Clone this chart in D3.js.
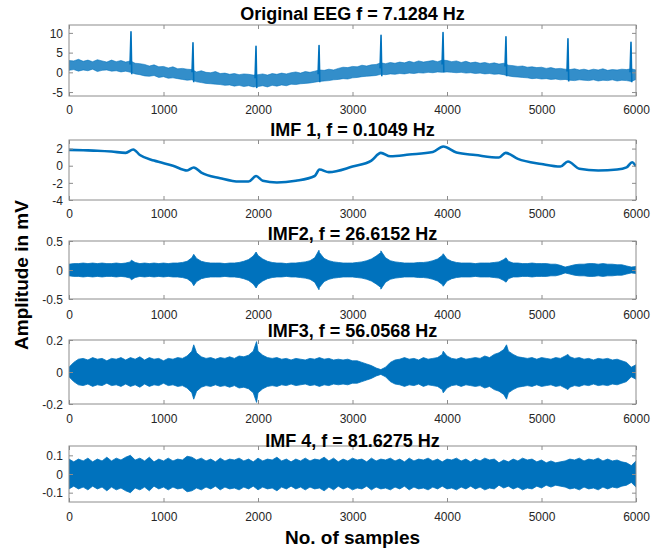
<!DOCTYPE html>
<html><head><meta charset="utf-8">
<script src="https://cdn.jsdelivr.net/npm/d3@7/dist/d3.min.js"></script>
<style>body{margin:0;background:#fff}svg{display:block}</style>
</head><body>
<script>
// ---------- DATA ----------
const xTicks = [0,1000,2000,3000,4000,5000,6000];
const gridStep = 50; // samples between envelope points

// Original EEG: upper / lower noise envelope (every 50 samples), spikes
const eegUpper = [3.0,2.9,3.3,2.8,3.1,2.7,3.2,2.9,2.6,3.1,
 2.7,3.0,2.6,2.9,2.3,2.2,2.0,1.6,1.9,1.4,
 1.5,1.1,1.4,0.9,1.0,0.8,0.7,0.1,0.4,0.0,
 -0.1,0.2,-0.3,-0.2,-0.5,-0.3,-0.6,-0.4,-0.5,-0.7,
 -0.6,-0.4,-0.7,-0.3,-0.5,-0.2,-0.4,-0.1,0.1,-0.2,
 0.2,0.0,0.3,0.6,0.5,0.8,0.6,1.0,1.3,1.2,
 1.5,1.4,1.8,1.6,1.9,2.0,2.4,2.2,2.5,2.3,
 2.6,2.4,2.8,2.5,2.9,2.6,2.8,3.0,2.7,3.1,
 3.0,2.7,2.9,2.5,2.8,2.4,2.6,2.3,2.5,2.2,
 2.4,2.1,2.3,1.8,1.7,1.5,1.6,1.3,1.4,1.2,
 1.3,1.0,1.2,0.9,1.0,0.8,0.7,0.9,0.6,0.8,
 0.5,0.8,0.6,0.9,0.5,0.7,0.6,0.8,0.7,0.9,
 0.6];
const eegLower = [0.5,0.7,0.3,0.6,0.4,0.8,0.2,0.5,0.6,0.3,
 0.4,0.1,0.3,0.0,-0.4,-0.6,-0.9,-1.0,-0.8,-1.3,
 -1.1,-1.5,-1.4,-1.6,-1.8,-2.0,-1.9,-2.4,-2.6,-2.8,
 -2.9,-3.0,-3.1,-3.3,-3.2,-3.5,-3.3,-3.6,-3.4,-3.7,
 -3.6,-3.4,-3.7,-3.3,-3.5,-3.2,-3.4,-3.0,-3.1,-2.9,
 -2.8,-2.7,-2.5,-2.3,-2.2,-2.1,-1.9,-1.8,-1.6,-1.7,
 -1.4,-1.3,-1.1,-1.0,-0.9,-0.8,-0.5,-0.6,-0.4,-0.5,
 -0.3,-0.4,-0.2,-0.3,-0.1,-0.2,0.0,-0.1,0.1,0.0,
 0.1,0.0,-0.1,0.0,-0.2,-0.1,-0.3,-0.2,-0.4,-0.3,
 -0.5,-0.4,-0.6,-0.9,-1.1,-1.2,-1.3,-1.4,-1.6,-1.5,
 -1.7,-1.6,-1.8,-1.7,-1.9,-1.8,-2.0,-2.1,-1.9,-2.0,
 -2.1,-1.9,-2.2,-2.0,-2.1,-1.9,-2.2,-2.0,-2.1,-2.3,
 -1.8];
const spikeX    = [656,1312,1979,2646,3302,3958,4624,5280,5947];
const spikePeak = [10.3,7.5,6.6,6.8,9.4,10.1,9.0,8.5,7.6];
const spikeBase = [2.0,0.0,-1.5,-0.5,1.0,2.0,1.5,0.2,0.0];
const spikeDip  = [-0.5,-2.5,-4.0,-2.5,-1.0,0.0,-1.0,-2.3,-2.5];

// IMF 1: slow trend
const imf1X = [0,150,300,450,600,680,750,900,1100,1250,1320,1400,1600,1800,1900,1980,2050,2200,2400,2600,2650,2750,3000,3200,3300,3400,3600,3850,3960,4100,4300,4550,4620,4750,5000,5200,5280,5400,5600,5800,5900,5960,6000];
const imf1Y = [1.85,1.8,1.75,1.65,1.5,1.9,1.25,0.6,0.0,-0.55,-0.2,-0.8,-1.45,-1.85,-1.85,-1.2,-1.75,-1.95,-1.75,-1.2,-0.45,-0.75,-0.1,0.6,1.5,1.1,1.3,1.6,2.25,1.55,1.25,0.95,1.5,0.8,0.2,-0.1,0.5,-0.35,-0.55,-0.45,-0.2,0.4,-0.1];

// IMF 2: amplitude envelope (every 50 samples) + burst peaks
const imf2Amp = [0.10,0.11,0.11,0.12,0.11,0.12,0.11,0.12,0.11,0.11,0.12,0.11,0.12,
 0.14,0.13,0.11,0.12,0.11,0.12,0.11,0.12,0.11,0.12,0.12,0.13,0.15,0.21,0.20,0.15,0.13,
 0.12,0.12,0.12,0.11,0.12,0.12,0.13,0.15,0.18,0.24,0.25,0.19,0.15,0.13,0.12,0.12,0.11,
 0.12,0.12,0.13,0.14,0.16,0.21,0.30,0.20,0.16,0.14,0.13,0.12,0.12,0.12,0.13,0.14,0.16,
 0.19,0.24,0.30,0.21,0.16,0.14,0.13,0.12,0.12,0.12,0.13,0.13,0.14,0.16,0.19,0.25,0.19,
 0.15,0.13,0.12,0.12,0.12,0.11,0.12,0.12,0.12,0.13,0.14,0.18,0.15,0.12,0.12,0.11,0.11,
 0.12,0.11,0.11,0.11,0.10,0.10,0.08,0.05,0.07,0.09,0.10,0.10,0.11,0.11,0.10,0.11,0.10,
 0.10,0.09,0.09,0.07,0.05,0.06];
const imf2PeakX = [660,1320,1980,2645,3300,3960,4625];
const imf2PeakA = [0.17,0.27,0.31,0.34,0.33,0.28,0.21];

// IMF 3
const imf3Amp = [0.03,0.06,0.08,0.085,0.075,0.09,0.08,0.085,0.07,0.085,0.08,0.09,0.075,
 0.09,0.08,0.095,0.075,0.09,0.08,0.085,0.07,0.085,0.08,0.09,0.085,0.10,0.13,0.12,0.095,
 0.085,0.09,0.08,0.09,0.085,0.095,0.085,0.10,0.095,0.105,0.13,0.13,0.105,0.09,0.085,0.09,
 0.08,0.085,0.075,0.085,0.08,0.075,0.085,0.08,0.09,0.08,0.085,0.075,0.08,0.075,0.08,
 0.07,0.07,0.06,0.05,0.04,0.025,0.015,0.03,0.06,0.075,0.08,0.09,0.08,0.085,0.075,0.09,
 0.08,0.085,0.09,0.11,0.10,0.085,0.08,0.09,0.08,0.085,0.09,0.085,0.10,0.09,0.11,0.12,
 0.14,0.13,0.11,0.095,0.09,0.085,0.09,0.08,0.09,0.085,0.08,0.09,0.085,0.10,0.095,0.085,
 0.09,0.08,0.085,0.075,0.085,0.08,0.085,0.075,0.08,0.07,0.06,0.03,0.045];
const imf3PeakX = [1320,1985,3960,4630,5280];
const imf3PeakA = [0.17,0.19,0.13,0.17,0.11];

// IMF 4
const imf4Amp = [0.08,0.065,0.08,0.07,0.085,0.065,0.08,0.07,0.09,0.07,0.085,0.075,0.09,
 0.10,0.075,0.085,0.07,0.09,0.065,0.08,0.07,0.085,0.07,0.08,0.075,0.095,0.09,0.075,0.085,
 0.07,0.08,0.065,0.085,0.07,0.08,0.075,0.085,0.07,0.08,0.065,0.085,0.07,0.08,0.075,0.09,
 0.07,0.08,0.065,0.08,0.07,0.085,0.07,0.08,0.075,0.09,0.07,0.085,0.065,0.08,0.07,0.085,
 0.075,0.08,0.065,0.085,0.07,0.08,0.075,0.085,0.07,0.08,0.065,0.085,0.07,0.08,0.075,
 0.085,0.07,0.08,0.065,0.08,0.075,0.085,0.07,0.08,0.065,0.08,0.07,0.085,0.075,0.08,0.06,
 0.075,0.065,0.08,0.07,0.085,0.075,0.08,0.065,0.075,0.06,0.07,0.06,0.065,0.07,0.08,0.075,
 0.085,0.07,0.08,0.075,0.085,0.07,0.08,0.07,0.075,0.065,0.06,0.045,0.07];

const titles = ["Original EEG f = 7.1284 Hz","IMF 1, f = 0.1049 Hz","IMF2, f = 26.6152 Hz","IMF3, f = 56.0568 Hz","IMF 4, f = 81.6275 Hz"];
const yDomains = [[-6,12],[-4,3],[-0.5,0.5],[-0.2,0.2],[-0.15,0.15]];
const yTicks = [[-5,0,5,10],[-4,-2,0,2],[-0.5,0,0.5],[-0.2,0,0.2],[-0.1,0,0.1]];
const yLabel = "Amplitude in mV";
const xLabel = "No. of samples";

// ---------- LAYOUT ----------
const W = 664, H = 549;
const left = 69, right = 636;
const panels = [
  {top:25, bottom:96, titleY:14, tickY:110},
  {top:140, bottom:200, titleY:130, tickY:214},
  {top:241, bottom:299, titleY:234, tickY:315},
  {top:340, bottom:404, titleY:331, tickY:419},
  {top:446, bottom:502, titleY:441, tickY:517}
];
const blue = "#0072BD";
const font = "'Liberation Sans', Arial, sans-serif";

const svg = d3.select("body").append("svg").attr("width",W).attr("height",H)
  .style("font-family", font);

const x = d3.scaleLinear().domain([0,6000]).range([left,right]);

function gridPts(arr){ return arr.map((v,i)=>({s:i*gridStep, v:v})); }
function withPeaks(arr, px, pa){
  const pts = gridPts(arr).concat(px.map((s,i)=>({s:s, v:pa[i]})));
  return pts.sort((a,b)=>a.s-b.s);
}

panels.forEach((p,k)=>{
  const y = d3.scaleLinear().domain(yDomains[k]).range([p.bottom,p.top]);
  const g = svg.append("g");
  const clipId = "clip"+k;
  svg.append("clipPath").attr("id",clipId).append("rect")
    .attr("x",left).attr("y",p.top).attr("width",right-left).attr("height",p.bottom-p.top);
  const plot = g.append("g").attr("clip-path",`url(#${clipId})`);

  if(k===0){
    const pts = eegUpper.map((u,i)=>({s:i*gridStep, u:u, l:eegLower[i]}));
    plot.append("path").datum(pts)
      .attr("d", d3.area().x(d=>x(d.s)).y0(d=>y(d.l)).y1(d=>y(d.u)))
      .attr("fill", blue).attr("fill-opacity",0.8)
      .attr("stroke", blue).attr("stroke-opacity",0.7).attr("stroke-width",0.8).attr("stroke-linejoin","round");
    spikeX.forEach((s,i)=>{
      const sp = [[s-10, spikeBase[i]],[s, spikePeak[i]],[s+8, spikeDip[i]]];
      plot.append("path").datum(sp)
        .attr("d", d3.line().x(d=>x(d[0])).y(d=>y(d[1])))
        .attr("fill","none").attr("stroke",blue).attr("stroke-width",1.6)
        .attr("stroke-linejoin","round");
    });
  } else if(k===1){
    const pts = imf1X.map((s,i)=>[s, imf1Y[i]]);
    plot.append("path").datum(pts)
      .attr("d", d3.line().x(d=>x(d[0])).y(d=>y(d[1])).curve(d3.curveMonotoneX))
      .attr("fill","none").attr("stroke",blue).attr("stroke-width",2.6);
  } else {
    let pts;
    if(k===2) pts = withPeaks(imf2Amp, imf2PeakX, imf2PeakA);
    else if(k===3) pts = withPeaks(imf3Amp, imf3PeakX, imf3PeakA);
    else pts = gridPts(imf4Amp);
    plot.append("path").datum(pts)
      .attr("d", d3.area().x(d=>x(d.s)).y0(d=>y(-d.v)).y1(d=>y(d.v)))
      .attr("fill", blue).attr("stroke", blue).attr("stroke-width",0.8);
  }

  // box
  g.append("rect").attr("x",left).attr("y",p.top).attr("width",right-left).attr("height",p.bottom-p.top)
    .attr("fill","none").attr("stroke","#8c8c8c").attr("stroke-width",1);

  // axes
  const tickCol = "#262626";
  const xb = g.append("g").attr("transform",`translate(0,${p.bottom})`)
    .call(d3.axisBottom(x).tickValues(xTicks).tickSize(-4).tickFormat(d3.format("d")).tickPadding(0));
  const xt = g.append("g").attr("transform",`translate(0,${p.top})`)
    .call(d3.axisTop(x).tickValues(xTicks).tickSize(-4).tickFormat(""));
  const yl = g.append("g").attr("transform",`translate(${left},0)`)
    .call(d3.axisLeft(y).tickValues(yTicks[k]).tickSize(-4).tickFormat(d=>String(d).replace("−","-")));
  const yr = g.append("g").attr("transform",`translate(${right},0)`)
    .call(d3.axisRight(y).tickValues(yTicks[k]).tickSize(-4).tickFormat(""));
  [xb,xt,yl,yr].forEach(a=>{
    a.select(".domain").remove();
    a.selectAll(".tick line").attr("stroke","#8c8c8c");
    a.selectAll("text").attr("fill",tickCol).style("font-size","12px").style("font-family",font);
  });
  xb.selectAll("text").attr("y", p.tickY - p.bottom + 4).attr("dy",0);
  yl.selectAll("text").attr("x",-6).attr("dy","0.35em");

  // title
  svg.append("text").attr("x",(left+right)/2).attr("y",p.titleY+6)
    .attr("text-anchor","middle").style("font-size","18px").style("font-weight","bold")
    .attr("fill","#000").text(titles[k]);
});

svg.append("text").attr("transform","translate(28,275) rotate(-90)")
  .attr("text-anchor","middle").style("font-size","19px").style("font-weight","bold").text(yLabel);
svg.append("text").attr("x",(left+right)/2).attr("y",544)
  .attr("text-anchor","middle").style("font-size","19px").style("font-weight","bold").text(xLabel);
</script>
</body></html>
